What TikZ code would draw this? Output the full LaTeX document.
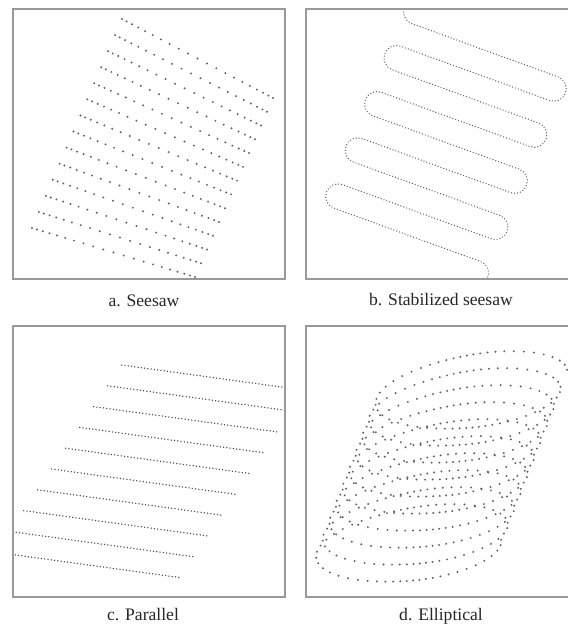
\documentclass[tikz,border=0pt]{standalone}
\usepackage{fontspec}
\setmainfont{Liberation Serif}
\usetikzlibrary{positioning}

\begin{document}
\begin{tikzpicture}[
  x=0.5pt,y=-0.5pt,
  frame/.style={draw=black!40,line width=0.75pt},
  lbl/.style={font=\fontsize{8.8}{10}\selectfont,text=black!85,anchor=base,inner sep=0pt},
  spot/.style={fill=black!62},
  trail/.style={draw=black!62,line width=0.7pt,line cap=round,dash pattern=on 0pt off 1.5pt},
  track/.style={draw=black!72,line width=0.75pt,line cap=round,dash pattern=on 0pt off 1.65pt}
]
\useasboundingbox (0,0) rectangle (568,627);
\clip (0,0) rectangle (568,627);

% a. seesaw
\begin{scope}
  \clip (13,9) rectangle (285,279);
  \foreach \k in {0,...,13}
    \foreach \j in {0,...,20}{
      \pgfmathsetmacro\s{0.55*\j/20+0.225*(1-cos(9*\j))}
      \fill[spot] ({122-6.923*\k+\s*(151+0.923*\k)},{19+16.077*\k+\s*(79-2.307*\k)}) circle[radius=0.55pt];
    }
\end{scope}
\draw[frame] (13,9) rectangle (285,279);
\node[lbl] (lbla) at (144,306) {a. Seesaw};

% b. stabilized seesaw
\begin{scope}
  \clip (306,9) rectangle (575,279);
  \begin{scope}[shift={(396.5,58)},rotate=-20]
    \draw[trail] (2.5,-62.5) arc(270:90:12.5)
      \foreach \k in {1,...,4}{ -- ++(155.75,0) arc(-90:90:12.5) -- ++(-158.25,0) arc(270:90:12.5) }
      -- ++(155.75,0) arc(-90:20:12.5);
  \end{scope}
\end{scope}
\draw[frame] (306,9) rectangle (575,279);
\node[lbl] (lblb) at (441,305) {b. Stabilized seesaw};

% c. parallel
\begin{scope}
  \clip (13,326) rectangle (285,597);
  \foreach \k in {0,...,9}
    \draw[track] ({121.7-14*\k},{365+20.8*\k}) -- ++(185,25.5);
\end{scope}
\draw[frame] (13,326) rectangle (285,597);
\node[lbl] (lblc) at (143,620) {c. Parallel};

% d. elliptical
\begin{scope}
  \clip (306,326) rectangle (575,597);
  \foreach \i in {0,...,520}{
    \pgfmathsetmacro\f{6.923*\i+12.6*sin(13.846*\i)}
    \fill[spot] ({407+0.1269*\i+94.07*cos(\f)+4.45*sin(\f)},{553-0.3269*\i-13.22*cos(\f)+31.69*sin(\f)}) circle[radius=0.55pt];
  }
\end{scope}
\draw[frame] (306,326) rectangle (575,597);
\node[lbl] (lbld) at (441,620) {d. Elliptical};
\end{tikzpicture}
\end{document}
